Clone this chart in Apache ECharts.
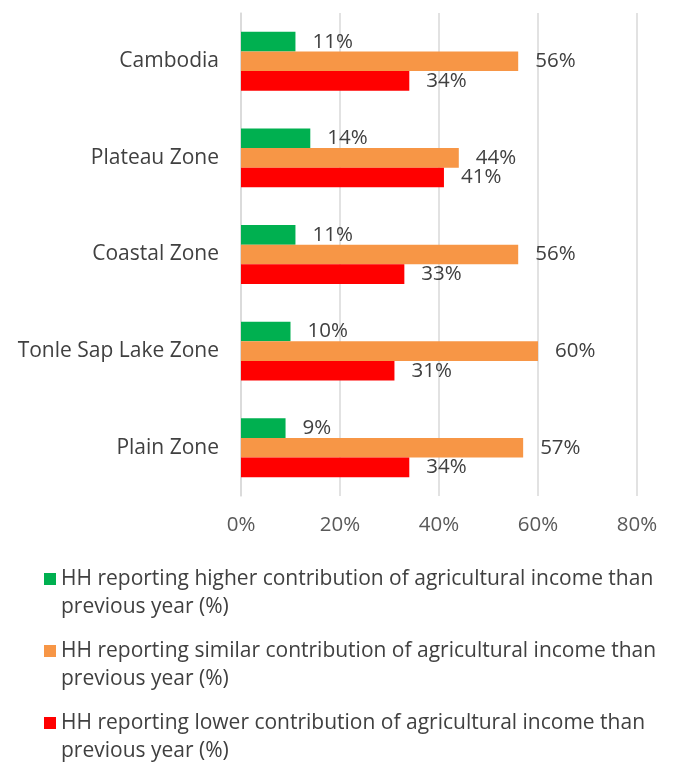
<!DOCTYPE html>
<html>
<head>
<meta charset="utf-8">
<script src="https://cdn.jsdelivr.net/npm/echarts@6/dist/echarts.min.js"></script>
<style>
  html, body { margin: 0; padding: 0; background: #fff; }
  #chart { width: 673px; height: 763px; }
</style>
</head>
<body>
<div id="chart"></div>
<script>
// zones, top to bottom
const categories = ['Cambodia', 'Plateau Zone', 'Coastal Zone', 'Tonle Sap Lake Zone', 'Plain Zone'];
const higher = [11, 14, 11, 10, 9];
const similar = [56, 44, 56, 60, 57];
const lower = [34, 41, 33, 31, 34];
const xTicks = [0, 20, 40, 60, 80];

const seriesNames = [
  'HH reporting higher contribution of agricultural income than previous year (%)',
  'HH reporting similar contribution of agricultural income than previous year (%)',
  'HH reporting lower contribution of agricultural income than previous year (%)'
];
const colors = ['#00b050', '#f79646', '#ff0000'];
const legendTops = [560, 632, 704];

const font = '"Open Sans", "Liberation Sans", sans-serif';

function makeSeries(name, data, color) {
  return {
    name: name,
    type: 'bar',
    data: data,
    barGap: '0%',
    barCategoryGap: '39%',
    itemStyle: { color: color },
    label: {
      show: true,
      position: 'right',
      distance: 17,
      formatter: '{c}%',
      color: '#404040',
      fontSize: 20.5,
      fontFamily: font
    }
  };
}

// one legend block per series; the square sits at the top of a taller icon box
// so it lines up with the first text line instead of the middle
function makeLegend(name, top) {
  return {
    data: [name],
    orient: 'vertical',
    left: 39,
    top: top,
    itemWidth: 12,
    itemHeight: 40,
    icon: 'path://M0,0h12v12h-12zM0,40',
    formatter: function (n) {
      return n.replace(' previous', '\nprevious');
    },
    textStyle: { color: '#404040', fontSize: 21, fontFamily: font, lineHeight: 28 }
  };
}

let myChart = echarts.init(document.getElementById('chart'));
myChart.setOption({
  animation: false,
  color: colors,
  grid: { left: 241, right: 36, top: 13, bottom: 267 },
  xAxis: {
    type: 'value',
    min: xTicks[0],
    max: xTicks[xTicks.length - 1],
    interval: 20,
    axisLine: { show: false },
    axisTick: { show: false },
    axisLabel: { formatter: '{value}%', color: '#595959', fontSize: 20.5, fontFamily: font, margin: 19 },
    splitLine: { show: true, lineStyle: { color: '#d9d9d9', width: 1.5 } }
  },
  yAxis: {
    type: 'category',
    data: categories,
    inverse: true,
    axisLine: { show: true, lineStyle: { color: '#d9d9d9', width: 1.5 } },
    axisTick: { show: false },
    axisLabel: { color: '#404040', fontSize: 21, fontFamily: font, margin: 22 }
  },
  legend: seriesNames.map(function (n, i) { return makeLegend(n, legendTops[i]); }),
  series: [
    makeSeries(seriesNames[0], higher, colors[0]),
    makeSeries(seriesNames[1], similar, colors[1]),
    makeSeries(seriesNames[2], lower, colors[2])
  ]
});
window.addEventListener('resize', function () {
  myChart.resize();
});
</script>
</body>
</html>
